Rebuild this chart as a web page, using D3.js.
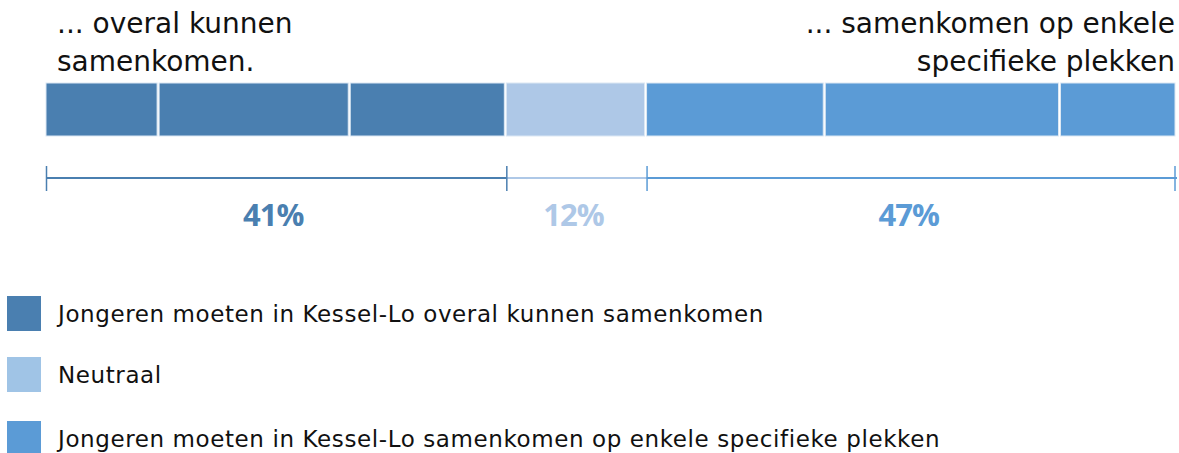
<!DOCTYPE html>
<html>
<head>
<meta charset="utf-8">
<script src="https://cdn.jsdelivr.net/npm/d3@7"></script>
<style>
  body { margin: 0; background: #fff; }
  text { font-family: "DejaVu Sans", sans-serif; }
</style>
</head>
<body>
<div id="chart"></div>
<script>
// bar pieces (percent), grouped by answer
var pieceValues = [10.0, 16.9, 13.8, 12.4, 15.8, 20.8, 10.3];
var pieceGroups = [0, 0, 0, 1, 2, 2, 2];
var groupLabels = ["41%", "12%", "47%"];
var barColors = ["#4a7fb0", "#aec8e7", "#5b9bd6"];
var legendColors = ["#4a7fb0", "#a0c4e6", "#5b9bd6"];
var legendLabels = [
  "Jongeren moeten in Kessel-Lo overal kunnen samenkomen",
  "Neutraal",
  "Jongeren moeten in Kessel-Lo samenkomen op enkele specifieke plekken"
];
var leftTitle = ["... overal kunnen", "samenkomen."];
var rightTitle = ["... samenkomen op enkele", "specifieke plekken"];

var width = 1179, height = 453;

var svg = d3.select("#chart").append("svg")
  .attr("width", width)
  .attr("height", height);

var x = d3.scaleLinear().domain([0, 100]).range([46, 1177]);

// cumulative starts
var starts = [], acc = 0;
pieceValues.forEach(function(v) { starts.push(acc); acc += v; });

// group extents from the pieces
var groups = groupLabels.map(function(l, gi) {
  var s = Infinity, e = -Infinity;
  pieceValues.forEach(function(v, i) {
    if (pieceGroups[i] === gi) { s = Math.min(s, starts[i]); e = Math.max(e, starts[i] + v); }
  });
  return {label: l, start: s, end: e, index: gi};
});

svg.selectAll("rect.piece")
  .data(pieceValues)
  .enter().append("rect")
  .attr("class", "piece")
  .attr("x", function(d, i) { return x(starts[i]); })
  .attr("y", 83)
  .attr("width", function(d) { return x(d) - x(0) - 2; })
  .attr("height", 53)
  .style("fill", function(d, i) { return barColors[pieceGroups[i]]; })
  .style("stroke", "#dce8f4")
  .style("stroke-width", 1);

// titles
function title(lines, xpos, anchor) {
  svg.append("text")
    .attr("x", xpos).attr("y", 33)
    .attr("text-anchor", anchor)
    .style("font-size", "28px").style("fill", "#111")
    .selectAll("tspan").data(lines).enter().append("tspan")
    .attr("x", xpos).attr("dy", function(d, i) { return i ? 38 : 0; })
    .text(function(d) { return d; });
}
title(leftTitle, 57, "start");
title(rightTitle, 1175, "end");

// brackets
var brackets = svg.selectAll("g.bracket")
  .data(groups)
  .enter().append("g")
  .attr("class", "bracket");

brackets.append("line")
  .attr("x1", function(d) { return x(d.start); })
  .attr("x2", function(d) { return x(d.end); })
  .attr("y1", 178).attr("y2", 178)
  .style("stroke", function(d) { return barColors[d.index]; })
  .style("stroke-width", 2);

brackets.append("line")
  .attr("x1", function(d) { return x(d.start) + 0.5; })
  .attr("x2", function(d) { return x(d.start) + 0.5; })
  .attr("y1", 166).attr("y2", 191)
  .style("stroke", function(d) { return d.index === 1 ? barColors[0] : barColors[d.index]; })
  .style("stroke-width", 1.5);

brackets.filter(function(d) { return d.index === 2; }).append("line")
  .attr("x1", function(d) { return x(d.end) - 2; })
  .attr("x2", function(d) { return x(d.end) - 2; })
  .attr("y1", 166).attr("y2", 191)
  .style("stroke", barColors[2])
  .style("stroke-width", 1.5);

brackets.append("text")
  .attr("x", function(d) { return x((d.start + d.end) / 2) - 3; })
  .attr("y", 226)
  .attr("text-anchor", "middle")
  .style("font-family", "'Open Sans', sans-serif")
  .style("font-weight", "bold")
  .style("font-size", "31px")
  .style("letter-spacing", "-1px")
  .style("fill", function(d) { return barColors[d.index]; })
  .text(function(d) { return d.label; });

// legend
var legend = svg.selectAll("g.legend")
  .data(legendLabels)
  .enter().append("g")
  .attr("class", "legend")
  .attr("transform", function(d, i) { return "translate(7," + [296, 357, 421][i] + ")"; });

legend.append("rect")
  .attr("width", 34).attr("height", 35)
  .style("fill", function(d, i) { return legendColors[i]; });

legend.append("text")
  .attr("x", 51).attr("y", 18).attr("dy", "0.35em")
  .style("font-size", "23px").style("letter-spacing", "0.6px").style("fill", "#111")
  .text(function(d) { return d; });
</script>
</body>
</html>
